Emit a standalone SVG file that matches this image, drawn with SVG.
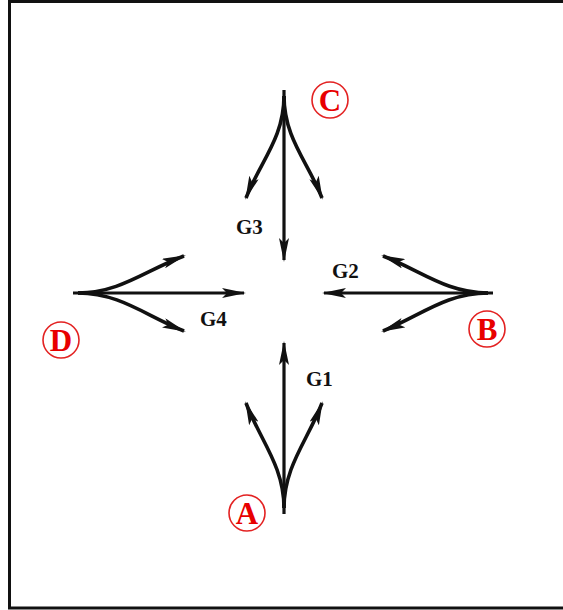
<svg xmlns="http://www.w3.org/2000/svg" width="563" height="610" viewBox="0 0 563 610">
<style>
.ln{fill:none;stroke:#111;stroke-width:3.2}
.cv{fill:none;stroke:#111;stroke-width:3.6}
.lbl{font-family:"Liberation Serif",serif;font-weight:bold;font-size:21px;fill:#111}
.ring{fill:none;stroke:#e32222;stroke-width:1.6}
.let{font-family:"Liberation Serif",serif;font-weight:bold;font-size:31px;fill:#e80000;text-anchor:middle}
</style>
<defs>
<marker id="ah" viewBox="0 0 24 10" refX="22" refY="5" markerWidth="24" markerHeight="10" markerUnits="userSpaceOnUse" orient="auto">
<path d="M0,0 L24,5 L0,10 L5,5 Z" fill="#111"/>
</marker>
</defs>
<rect x="9.5" y="1.5" width="570" height="606.5" fill="#fff" stroke="#111" stroke-width="3"/>
<g id="connectors">
<g id="arrows-C">
<path class="ln" d="M284,90 L284,260" marker-end="url(#ah)"/>
<path class="cv" d="M284,96 C284,138 260,162 246,198" marker-end="url(#ah)"/>
<path class="cv" d="M284,96 C284,138 308,162 322,198" marker-end="url(#ah)"/>
</g>
<g id="arrows-D">
<path class="ln" d="M73,293 L244,293" marker-end="url(#ah)"/>
<path class="cv" d="M78,293 C120,293 146,270 184,256" marker-end="url(#ah)"/>
<path class="cv" d="M78,293 C120,293 146,316 184,331" marker-end="url(#ah)"/>
</g>
<g id="arrows-B">
<path class="ln" d="M493,293 L324,293" marker-end="url(#ah)"/>
<path class="cv" d="M488,293 C446,293 420,270 383,256" marker-end="url(#ah)"/>
<path class="cv" d="M488,293 C446,293 420,316 383,331" marker-end="url(#ah)"/>
</g>
<g id="arrows-A">
<path class="ln" d="M284,514 L284,343" marker-end="url(#ah)"/>
<path class="cv" d="M284,508 C284,466 260,440 246,403" marker-end="url(#ah)"/>
<path class="cv" d="M284,508 C284,466 308,440 322,403" marker-end="url(#ah)"/>
</g>
</g>
<g id="label-G3"><text class="lbl" x="236" y="234">G3</text></g>
<g id="label-G4"><text class="lbl" x="200" y="326">G4</text></g>
<g id="label-G2"><text class="lbl" x="332" y="278">G2</text></g>
<g id="label-G1"><text class="lbl" x="306" y="386">G1</text></g>
<g id="node-C"><circle class="ring" cx="330" cy="100" r="18"/><text class="let" x="330" y="111">C</text></g>
<g id="node-D"><circle class="ring" cx="61" cy="340" r="18"/><text class="let" x="61" y="351">D</text></g>
<g id="node-B"><circle class="ring" cx="487" cy="329" r="18"/><text class="let" x="487" y="340">B</text></g>
<g id="node-A"><circle class="ring" cx="247" cy="513" r="18"/><text class="let" x="247" y="524">A</text></g>
</svg>
